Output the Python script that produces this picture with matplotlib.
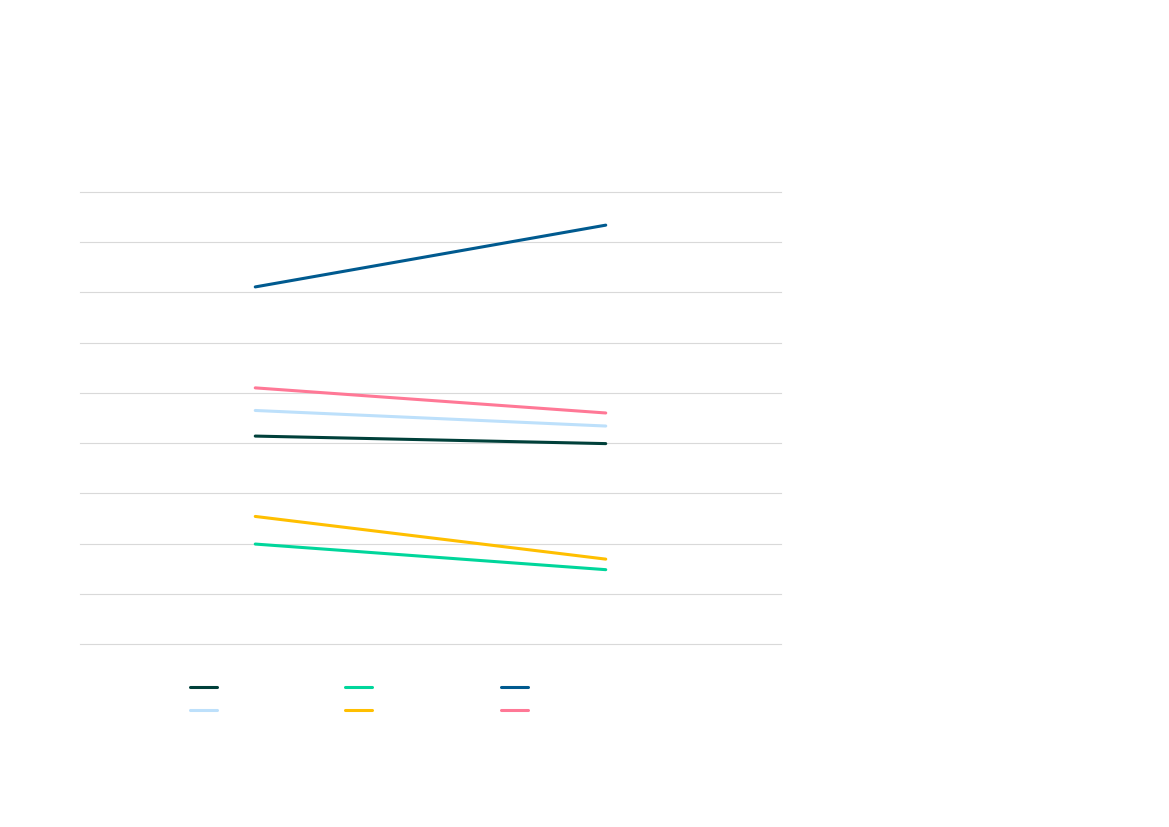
import matplotlib.pyplot as plt

# two unlabeled periods, six unlabeled series (no text in the original)
periods = [0, 1]
dark_green = [41.4, 39.9]
light_blue = [46.5, 43.4]
teal = [19.9, 14.8]
yellow = [25.4, 16.9]
dark_blue = [71.1, 83.4]
pink = [51.0, 46.0]

series = [dark_green, light_blue, teal, yellow, dark_blue, pink]
colors = ['#00403a', '#bde0fb', '#00d69b', '#ffbf00', '#005a8f', '#ff7896']

fig = plt.figure(figsize=(11.69, 8.27), dpi=100)
ax = fig.add_axes([80/1169, 1 - 644/827, 701/1169, 452/827])

lines = []
for vals, c in zip(series, colors):
    ln, = ax.plot(periods, vals, color=c, linewidth=2.2, solid_capstyle='round')
    lines.append(ln)

ax.set_xlim(-0.5, 1.5)
ax.set_ylim(0, 90)
ax.set_yticks(range(0, 91, 10))
ax.set_xticks([])
ax.yaxis.grid(True, color='#d9d9d9', linewidth=0.8)
for g in ax.get_ygridlines():
    g.set_clip_on(False)
ax.set_axisbelow(True)
ax.tick_params(left=False, labelleft=False)
for s in ax.spines.values():
    s.set_visible(False)

leg = fig.legend(lines, [''] * 6, ncol=3, frameon=False,
                 loc='upper left', bbox_to_anchor=(177/1169, 1 - 668/827),
                 handlelength=1.95, handletextpad=0.0, columnspacing=9.25,
                 labelspacing=0.68)

fig.savefig('out.png', dpi=100)
